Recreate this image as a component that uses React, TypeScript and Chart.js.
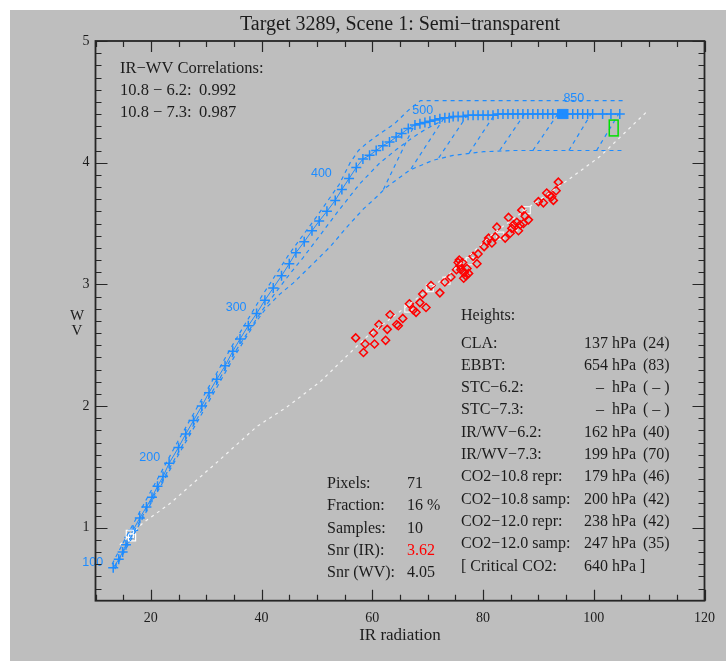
import React, { useEffect, useRef } from 'react';
import { Chart, registerables } from 'chart.js';

Chart.register(...registerables);

const TITLE = 'Target 3289, Scene 1: Semi\u2212transparent';
const X_TITLE = 'IR radiation';
const Y_TITLE = ['W', 'V'];

const xMajorTicks = [20, 40, 60, 80, 100, 120];
const yMajorTicks = [1, 2, 3, 4, 5];

// Model curve (+ markers)
const curveX = [13.2, 14.2, 14.9, 15.5, 16.1, 16.8, 18.0, 19.2, 20.2, 21.2, 22.2, 23.3, 25.0, 26.3, 27.7, 29.2, 30.5, 31.9, 33.4, 34.8, 36.1, 37.6, 39.1, 40.6, 42.1, 43.6, 45.0, 46.2, 47.7, 49.1, 50.4, 51.8, 53.3, 54.5, 55.8, 57.1, 58.3, 59.5, 60.7, 61.9, 63.1, 64.3, 65.3, 66.5, 67.7, 68.6, 69.5, 70.4, 71.3, 72.2, 73.1, 73.9, 74.6, 75.5, 76.4, 77.3, 78.2, 79.1, 80.0, 80.9, 81.8, 82.7, 83.6, 84.5, 85.4, 86.3, 87.2, 88.1, 89.0, 89.9, 90.8, 91.7, 92.6, 93.5, 95.3, 96.2, 97.1, 98.0, 98.9, 99.8, 101.6, 103.1, 104.7];
const curveY = [0.67, 0.74, 0.80, 0.86, 0.92, 0.98, 1.08, 1.17, 1.25, 1.34, 1.42, 1.53, 1.66, 1.77, 1.88, 2.00, 2.11, 2.22, 2.33, 2.45, 2.55, 2.66, 2.76, 2.87, 2.97, 3.07, 3.17, 3.26, 3.35, 3.44, 3.52, 3.60, 3.69, 3.78, 3.87, 3.96, 4.03, 4.06, 4.10, 4.14, 4.17, 4.21, 4.24, 4.28, 4.31, 4.32, 4.33, 4.34, 4.35, 4.36, 4.37, 4.37, 4.38, 4.38, 4.38, 4.39, 4.39, 4.39, 4.39, 4.39, 4.39, 4.40, 4.40, 4.40, 4.40, 4.40, 4.40, 4.40, 4.40, 4.40, 4.40, 4.40, 4.40, 4.40, 4.40, 4.40, 4.40, 4.40, 4.40, 4.40, 4.40, 4.40, 4.40];

// Dashed envelopes
const upperX = [13.0, 15.5, 20, 25, 30, 35, 40, 45, 50, 54, 56, 57.5, 59, 61.4, 64, 66.5, 68.7, 75, 85, 95, 105.5];
const upperY = [0.70, 0.92, 1.30, 1.72, 2.12, 2.52, 2.90, 3.25, 3.56, 3.82, 4.00, 4.10, 4.16, 4.24, 4.32, 4.43, 4.51, 4.51, 4.51, 4.51, 4.51];
const middleX = [13.5, 20, 25, 30, 35, 40, 42.5, 45, 47.5, 50, 53.8, 57.8, 61.4, 64.4, 67.4, 69.8, 72];
const middleY = [0.68, 1.22, 1.62, 2.03, 2.43, 2.78, 2.93, 3.08, 3.22, 3.37, 3.60, 3.83, 4.00, 4.11, 4.21, 4.28, 4.33];
const lowerX = [13.5, 20, 25, 30, 35, 38.5, 40.9, 43.3, 45.7, 49.3, 52.4, 55.4, 58.4, 60.8, 62.6, 66.8, 71.0, 74.6, 80.1, 85.4, 95, 105.5];
const lowerY = [0.66, 1.20, 1.60, 2.00, 2.40, 2.66, 2.81, 2.92, 3.01, 3.17, 3.31, 3.47, 3.62, 3.72, 3.80, 3.94, 4.02, 4.06, 4.09, 4.10, 4.10, 4.10];
const diagStartX = [62.0, 67.0, 72.0, 77.5, 83.0, 89.0, 95.5, 100.5];
const diagStartY = [3.78, 3.95, 4.04, 4.08, 4.10, 4.10, 4.10, 4.10];
const diagEndX = [67.5, 73.0, 77.0, 82.0, 87.5, 93.5, 99.5, 104.5];
const diagEndY = [4.30, 4.37, 4.38, 4.39, 4.40, 4.40, 4.40, 4.40];

// Clear-sky line (white dashed)
const clearX = [14.4, 18.6, 23.5, 32.5, 39.1, 44.5, 50.6, 59.0, 66.8, 74.0, 81.9, 89.1, 95.1, 101.1, 109.6];
const clearY = [0.86, 1.04, 1.20, 1.56, 1.83, 1.99, 2.20, 2.57, 2.84, 3.09, 3.42, 3.66, 3.85, 4.05, 4.42];

// Pixels (red diamonds)
const redX = [57.0, 58.7, 58.4, 60.2, 60.4, 61.2, 62.4, 62.7, 63.2, 64.4, 64.7, 66.7, 67.4, 67.9, 68.6, 69.1, 69.7, 72.2, 73.1, 75.5, 75.8, 76.0, 76.3, 76.6, 76.9, 77.1, 75.2, 78.2, 78.9, 79.1, 80.2, 80.7, 81.6, 82.5, 82.2, 84.0, 84.6, 84.9, 85.5, 86.1, 86.4, 86.7, 87.0, 87.3, 90.0, 90.9, 91.5, 92.0, 92.4, 92.7, 93.2, 93.6, 75.7, 76.5, 77.4, 87.6, 88.2, 81.0, 85.2, 74.2, 70.6, 65.5];
const redY = [2.56, 2.51, 2.44, 2.60, 2.51, 2.67, 2.54, 2.63, 2.75, 2.67, 2.66, 2.84, 2.79, 2.77, 2.85, 2.92, 2.81, 2.93, 3.02, 3.18, 3.15, 3.12, 3.18, 3.10, 3.07, 3.13, 3.12, 3.23, 3.17, 3.25, 3.31, 3.35, 3.34, 3.47, 3.39, 3.38, 3.55, 3.42, 3.49, 3.51, 3.44, 3.49, 3.61, 3.50, 3.68, 3.67, 3.75, 3.73, 3.72, 3.69, 3.77, 3.84, 3.20, 3.05, 3.09, 3.56, 3.53, 3.38, 3.46, 3.06, 2.99, 2.72];

// Samples (white squares)
const sampleX = [66.5, 70.4, 73.4, 77.6, 83.1, 85.5, 87.9];
const sampleY = [2.80, 2.97, 3.03, 3.19, 3.40, 3.47, 3.61];
const startX = [16.2, 16.6];
const startY = [0.95, 0.92];

// Best fit level (filled square) and green box
const bestX = [94.4];
const bestY = [4.40];
const greenX = [102.8, 104.4];
const greenY = [4.22, 4.35];

// Pressure level labels
const levelLabels = ['100', '200', '300', '400', '500', '850'];
const levelX = [9.5, 19.8, 35.4, 50.8, 69.1, 96.4];
const levelY = [0.71, 1.58, 2.81, 3.91, 4.43, 4.53];

// Text blocks
const corrTitle = 'IR\u2212WV Correlations:';
const corrLabels = ['10.8 \u2212 6.2:', '10.8 \u2212 7.3:'];
const corrValues = ['0.992', '0.987'];
const statLabels = ['Pixels:', 'Fraction:', 'Samples:', 'Snr (IR):', 'Snr (WV):'];
const statValues = ['71', '16 %', '10', '3.62', '4.05'];
const heightsTitle = 'Heights:';
const heightLabels = ['CLA:', 'EBBT:', 'STC\u22126.2:', 'STC\u22127.3:', 'IR/WV\u22126.2:', 'IR/WV\u22127.3:', 'CO2\u221210.8 repr:', 'CO2\u221210.8 samp:', 'CO2\u221212.0 repr:', 'CO2\u221212.0 samp:', '[ Critical CO2:'];
const heightHpa = ['137', '654', '\u2013 ', '\u2013 ', '162', '199', '179', '200', '238', '247', '640'];
const heightN = ['(24)', '(83)', '( \u2013 )', '( \u2013 )', '(40)', '(70)', '(46)', '(42)', '(42)', '(35)', ']'];

const BG = '#bebebe';
const BLUE = '#1e8cff';
const RED = '#ff0000';
const INK = '#1c1c1c';
const CLEAR = 'rgba(0,0,0,0)';
const SERIF = '"Liberation Serif", "DejaVu Serif", serif';
const SANS = '"Liberation Sans", Arial, sans-serif';

const pts = (xs: number[], ys: number[]) => xs.map((x, i) => ({ x, y: ys[i] }));

const decor = {
  id: 'decor',
  beforeDraw(chart: any) {
    const { ctx, width, height } = chart;
    ctx.save();
    ctx.fillStyle = BG;
    ctx.fillRect(0, 0, width, height);
    ctx.restore();
  },
  afterDatasetsDraw(chart: any) {
    const { ctx } = chart;
    const xs = chart.scales.x;
    const ys = chart.scales.y;
    ctx.save();
    ctx.strokeStyle = '#00e000';
    ctx.lineWidth = 1.5;
    const gx0 = xs.getPixelForValue(greenX[0]);
    const gx1 = xs.getPixelForValue(greenX[1]);
    const gy0 = ys.getPixelForValue(greenY[0]);
    const gy1 = ys.getPixelForValue(greenY[1]);
    ctx.strokeRect(gx0, gy1, gx1 - gx0, gy0 - gy1);
    ctx.fillStyle = BLUE;
    ctx.font = `12.5px ${SANS}`;
    ctx.textAlign = 'center';
    ctx.textBaseline = 'middle';
    levelLabels.forEach((t, i) => {
      ctx.fillText(t, xs.getPixelForValue(levelX[i]), ys.getPixelForValue(levelY[i]));
    });
    ctx.restore();
  },
  afterDraw(chart: any) {
    const { ctx, chartArea } = chart;
    const xs = chart.scales.x;
    const ys = chart.scales.y;
    const { left, right, top, bottom } = chartArea;
    ctx.save();
    ctx.strokeStyle = '#262626';
    ctx.lineWidth = 1.8;
    ctx.strokeRect(left, top, right - left, bottom - top);
    ctx.lineWidth = 1.2;
    ctx.beginPath();
    for (let v = 10; v <= 120; v += 5) {
      const px = Math.round(xs.getPixelForValue(v)) + 0.5;
      const len = xMajorTicks.includes(v) ? 11 : 6;
      ctx.moveTo(px, bottom);
      ctx.lineTo(px, bottom - len);
      ctx.moveTo(px, top);
      ctx.lineTo(px, top + len);
    }
    for (let k = 5; k <= 50; k++) {
      const v = k / 10;
      const py = Math.round(ys.getPixelForValue(v)) + 0.5;
      const len = yMajorTicks.includes(v) ? 12 : 6;
      ctx.moveTo(left, py);
      ctx.lineTo(left + len, py);
      ctx.moveTo(right, py);
      ctx.lineTo(right - len, py);
    }
    ctx.stroke();

    ctx.fillStyle = INK;
    ctx.textBaseline = 'middle';
    ctx.textAlign = 'center';
    ctx.font = `20px ${SERIF}`;
    ctx.fillText(TITLE, (left + right) / 2, 15);
    ctx.font = `17px ${SERIF}`;
    ctx.fillText(X_TITLE, (left + right) / 2, 626);
    ctx.font = `15px ${SERIF}`;
    ctx.fillText(Y_TITLE[0], 67, 306);
    ctx.fillText(Y_TITLE[1], 67, 321);

    ctx.textAlign = 'left';
    ctx.font = `16.5px ${SERIF}`;
    ctx.fillText(corrTitle, 110, 59);
    corrLabels.forEach((t, i) => {
      ctx.fillText(t, 110, 81 + i * 22);
      ctx.fillText(corrValues[i], 189, 81 + i * 22);
    });

    ctx.font = `16px ${SERIF}`;
    statLabels.forEach((t, i) => {
      const y = 474 + i * 22.2;
      ctx.fillStyle = INK;
      ctx.fillText(t, 317, y);
      ctx.fillStyle = i === 3 ? RED : INK;
      ctx.fillText(statValues[i], 397, y);
    });
    ctx.fillStyle = INK;

    ctx.fillText(heightsTitle, 451, 306);
    heightLabels.forEach((t, i) => {
      const y = 333.3 + i * 22.3;
      ctx.textAlign = 'left';
      ctx.fillText(t, 451, y);
      ctx.textAlign = 'right';
      ctx.fillText(`${heightHpa[i]} hPa`, 626, y);
      ctx.textAlign = 'left';
      ctx.fillText(heightN[i], i === 10 ? 630 : 633, y);
    });
    ctx.restore();
  },
};

export default function App() {
  const ref = useRef<HTMLCanvasElement | null>(null);
  useEffect(() => {
    document.body.style.margin = '0';
    document.body.style.overflow = 'hidden';
    const canvas = ref.current;
    if (!canvas) return;
    const dashed = (label: string, xs: number[], ys: number[], color: string, dash: number[]) => ({
      label,
      data: pts(xs, ys),
      showLine: true,
      borderColor: color,
      backgroundColor: color,
      borderWidth: 1.2,
      borderDash: dash,
      pointRadius: 0,
      fill: false,
    });
    const diagSets = diagStartX.map((x0, i) =>
      dashed('diag' + i, [x0, diagEndX[i]], [diagStartY[i], diagEndY[i]], BLUE, [4, 4])
    );
    const marker = (label: string, xs: number[], ys: number[], style: string, r: number, color: string, fillColor: string, w: number) => ({
      label,
      data: pts(xs, ys),
      showLine: false,
      pointStyle: style,
      pointRadius: r,
      pointBorderColor: color,
      pointBackgroundColor: fillColor,
      pointBorderWidth: w,
      borderColor: color,
      backgroundColor: fillColor,
    });
    const chart = new Chart(canvas, {
      type: 'scatter',
      data: {
        datasets: [
          dashed('upper', upperX, upperY, BLUE, [4, 4]),
          dashed('middle', middleX, middleY, BLUE, [4, 4]),
          dashed('lower', lowerX, lowerY, BLUE, [4, 4]),
          ...diagSets,
          dashed('clear', clearX, clearY, '#f4f4f4', [3, 4]),
          marker('pixels', redX, redY, 'rectRot', 4, RED, CLEAR, 1.5),
          marker('samples', sampleX, sampleY, 'rect', 5, '#f4f4f4', CLEAR, 1.2),
          marker('start', startX, startY, 'rect', 5, '#ffffff', CLEAR, 1.2),
          {
            label: 'curve',
            data: pts(curveX, curveY),
            showLine: true,
            borderColor: BLUE,
            backgroundColor: BLUE,
            borderWidth: 1,
            pointStyle: 'cross',
            pointRadius: 5,
            pointBorderColor: BLUE,
            pointBackgroundColor: BLUE,
            pointBorderWidth: 1.5,
          },
          marker('best', bestX, bestY, 'rect', 6.5, BLUE, BLUE, 1),
        ],
      },
      options: {
        responsive: false,
        animation: false,
        events: [],
        layout: { padding: { top: 31, right: 21.5, left: 0, bottom: 0 } },
        plugins: {
          legend: { display: false },
          tooltip: { enabled: false },
          title: { display: false },
        },
        scales: {
          x: {
            type: 'linear',
            min: 10,
            max: 120,
            grid: { display: false, drawTicks: false },
            border: { display: false },
            ticks: {
              stepSize: 20,
              includeBounds: false,
              padding: 9,
              color: INK,
              maxRotation: 0,
              font: { family: SERIF, size: 14 },
            },
            afterFit: (s: any) => {
              s.height = 60.3;
            },
          },
          y: {
            type: 'linear',
            min: 0.4,
            max: 5,
            grid: { display: false, drawTicks: false },
            border: { display: false },
            ticks: {
              stepSize: 1,
              includeBounds: false,
              padding: 6,
              color: INK,
              font: { family: SERIF, size: 14 },
            },
            afterFit: (s: any) => {
              s.width = 85.5;
            },
          },
        },
      },
      plugins: [decor],
    } as any);
    return () => chart.destroy();
  }, []);
  return (
    <div style={{ padding: '10px 0 0 10px' }}>
      <canvas ref={ref} width={716} height={651} style={{ display: 'block', width: 716, height: 651 }} />
    </div>
  );
}
